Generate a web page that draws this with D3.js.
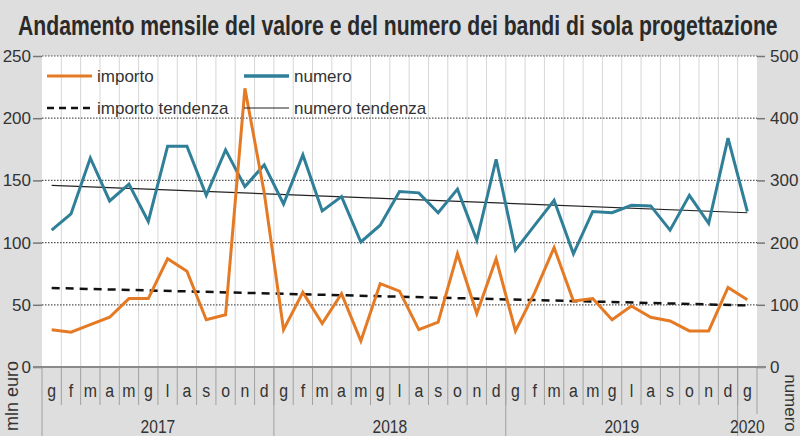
<!DOCTYPE html>
<html><head><meta charset="utf-8">
<script src="https://cdn.jsdelivr.net/npm/d3@7/dist/d3.min.js"></script>
<style>
html,body{margin:0;padding:0;background:#dedede;}
svg{display:block;}
text{font-family:"Liberation Sans",Arial,sans-serif;fill:#333;}
</style></head><body>
<svg id="c" width="800" height="436"></svg>
<script>
const title = "Andamento mensile del valore e del numero dei bandi di sola progettazione";
const monthLabels = ["g","f","m","a","m","g","l","a","s","o","n","d",
                     "g","f","m","a","m","g","l","a","s","o","n","d",
                     "g","f","m","a","m","g","l","a","s","o","n","d","g"];
const years = [{label:"2017", start:0, end:12},{label:"2018", start:12, end:24},{label:"2019", start:24, end:36},{label:"2020", start:36, end:37}];
const importo = [30,28,34,40,55,55,87,77,38,42,224,140,
                 30,60,35,59,21,67,61,30,36,91,43,87,
                 29,60,96,53,55,38,49,40,37,29,29,64,54];
const numero = [220,246,336,267,294,234,355,355,276,349,290,325,
                262,341,251,274,201,228,282,280,248,286,204,334,
                188,228,268,182,250,248,260,259,220,276,231,368,250];
const importoTrend = [63.5, 49.5];   // first and last month
const numeroTrend = [292, 248];
const leftTicks = [0,50,100,150,200,250];
const rightTicks = [0,100,200,300,400,500];

const orange = "#e57a25", teal = "#2f7f98";
const svg = d3.select("#c");
const L = 42, R = 757, T = 56, B = 367;
const idx = d3.range(monthLabels.length);
const x = d3.scaleBand().domain(idx).range([L, R]);
const bw = x.bandwidth();
const cx = i => x(i) + bw/2;
const yL = d3.scaleLinear().domain([0,250]).range([B, T]);
const yR = d3.scaleLinear().domain([0,500]).range([B, T]);

function squeeze(sel, f) {
  sel.each(function() {
    const w = this.getComputedTextLength();
    d3.select(this).attr("textLength", w * f).attr("lengthAdjust", "spacingAndGlyphs");
  });
}

// title (scaled horizontally to mimic a condensed face)
const tt = svg.append("text").attr("font-size", 27).attr("font-weight", "bold")
  .style("fill", "#2a2a2a").text(title);
const tw = tt.node().getComputedTextLength();
tt.attr("transform", `translate(18,35) scale(${760 / tw},1)`);

// plot background
svg.append("rect").attr("x", L).attr("y", T).attr("width", R-L).attr("height", B-T).attr("fill", "#fff");

// vertical grid
svg.append("g").selectAll("line").data(idx.slice(1)).join("line")
  .attr("x1", d => x(d)).attr("x2", d => x(d)).attr("y1", T).attr("y2", B)
  .attr("stroke", "#d6d6d6").attr("stroke-width", 1);

// horizontal grid
svg.append("g").selectAll("line").data(leftTicks.slice(1)).join("line")
  .attr("x1", L).attr("x2", R).attr("y1", d => yL(d)).attr("y2", d => yL(d))
  .attr("stroke", "#555").attr("stroke-width", 1.2).attr("stroke-dasharray", "1.5,1.5");

// left axis
const gl = svg.append("g").attr("transform", `translate(${L},0)`)
  .call(d3.axisLeft(yL).tickValues(leftTicks).tickSize(9).tickPadding(2));
gl.select(".domain").remove();
gl.selectAll(".tick line").attr("stroke", "#777").attr("stroke-width", 1.5);
gl.selectAll(".tick text").attr("font-size", 17).attr("font-family", null).style("fill", "#333");

// right axis
const gr = svg.append("g").attr("transform", `translate(${R},0)`)
  .call(d3.axisRight(yR).tickValues(rightTicks).tickSize(8).tickPadding(5));
gr.select(".domain").remove();
gr.selectAll(".tick line").attr("stroke", "#777").attr("stroke-width", 1.5);
gr.selectAll(".tick text").attr("font-size", 17).attr("font-family", null).style("fill", "#333");

// category axis separators
svg.append("g").selectAll("line").data(idx.slice(1)).join("line")
  .attr("x1", d => x(d)).attr("x2", d => x(d)).attr("y1", B).attr("y2", 405)
  .attr("stroke", "#a0a0a0").attr("stroke-width", 1);
svg.append("g").selectAll("line").data(years).join("line")
  .attr("x1", d => x(d.start)).attr("x2", d => x(d.start)).attr("y1", B).attr("y2", 436)
  .attr("stroke", "#a0a0a0").attr("stroke-width", 1);
svg.append("line").attr("x1", R).attr("x2", R).attr("y1", B).attr("y2", 414)
  .attr("stroke", "#a0a0a0").attr("stroke-width", 1);

// month labels
const gx = svg.append("g").attr("transform", `translate(0,${B})`)
  .call(d3.axisBottom(x).tickSize(0).tickFormat(i => monthLabels[i]));
gx.select(".domain").remove();
gx.selectAll(".tick text").attr("font-size", 18).attr("font-family", null)
  .attr("y", 30).attr("dy", 0).style("fill", "#333");
squeeze(gx.selectAll(".tick text"), 0.88);

// year labels
const yl = svg.append("g").selectAll("text").data(years).join("text")
  .attr("x", d => (x(d.start) + x(d.end - 1) + bw) / 2).attr("y", 433)
  .attr("text-anchor", "middle").attr("font-size", 19).text(d => d.label);
squeeze(yl, 0.82);

// baseline
svg.append("line").attr("x1", 33).attr("x2", 766).attr("y1", B).attr("y2", B)
  .attr("stroke", "#8a8a8a").attr("stroke-width", 2);

// axis titles
svg.append("text").attr("transform", "translate(18,396) rotate(-90)").attr("text-anchor", "middle")
  .attr("font-size", 18).text("mln euro");
svg.append("text").attr("transform", "translate(785,403) rotate(90)").attr("text-anchor", "middle")
  .attr("font-size", 17).text("numero");

// trend lines
const ends = [0, monthLabels.length - 1];
svg.append("line").attr("x1", cx(ends[0])).attr("x2", cx(ends[1]))
  .attr("y1", yR(numeroTrend[0])).attr("y2", yR(numeroTrend[1]))
  .attr("stroke", "#222").attr("stroke-width", 1.2);

// series lines
const lineL = d3.line().x((d,i) => cx(i)).y(d => yL(d));
const lineR = d3.line().x((d,i) => cx(i)).y(d => yR(d));
svg.append("path").datum(numero).attr("d", lineR).attr("fill", "none")
  .attr("stroke", teal).attr("stroke-width", 3).attr("stroke-linejoin", "miter");
svg.append("line").attr("x1", cx(ends[0])).attr("x2", cx(ends[1]))
  .attr("y1", yL(importoTrend[0])).attr("y2", yL(importoTrend[1]))
  .attr("stroke", "#111").attr("stroke-width", 2.5).attr("stroke-dasharray", "8,6");
svg.append("path").datum(importo).attr("d", lineL).attr("fill", "none")
  .attr("stroke", orange).attr("stroke-width", 3).attr("stroke-linejoin", "miter");

// legend
const leg = [
  {label:"importo", x:47, y:76, color:orange, w:3, dash:null},
  {label:"numero", x:244, y:76, color:teal, w:3.5, dash:null},
  {label:"importo tendenza", x:47, y:108, color:"#111", w:2.5, dash:"7,5"},
  {label:"numero tendenza", x:244, y:108, color:"#222", w:1.2, dash:null}
];
const lg = svg.append("g").selectAll("g").data(leg).join("g");
lg.append("line").attr("x1", d => d.x).attr("x2", d => d.x + 45).attr("y1", d => d.y).attr("y2", d => d.y)
  .attr("stroke", d => d.color).attr("stroke-width", d => d.w).attr("stroke-dasharray", d => d.dash);
lg.append("text").attr("x", d => d.x + 50).attr("y", d => d.y + 6).attr("font-size", 17).text(d => d.label);
</script>
</body></html>
